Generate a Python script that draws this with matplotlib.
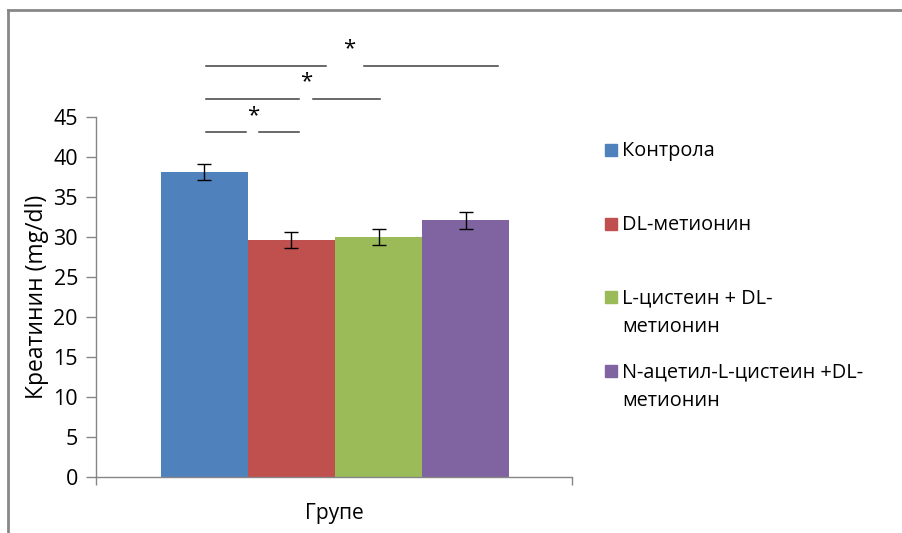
import matplotlib
matplotlib.use("Agg")
import matplotlib.pyplot as plt
from matplotlib.patches import Rectangle
from matplotlib.lines import Line2D

plt.rcParams['font.family'] = ['Open Sans', 'DejaVu Sans']

groups = ["Контрола", "DL-метионин", "L-цистеин + DL-\nметионин",
          "N-ацетил-L-цистеин +DL-\nметионин"]
means = [38.1, 29.6, 30.0, 32.1]
errors = [1.0, 1.0, 0.95, 1.05]
colors = ["#4F81BD", "#C0504D", "#9BBB59", "#8064A2"]

# significance brackets: (level, left segment, right segment, star x)
sig_levels = [43.1, 47.25, 51.4]
sig_left = [(0.02, 0.48), (0.02, 1.09), (0.02, 1.40)]
sig_right = [(0.63, 1.09), (1.25, 2.02), (1.83, 3.37)]
sig_star_x = [0.56, 1.17, 1.66]

W, H = 902, 533
fig = plt.figure(figsize=(W / 100, H / 100), dpi=100)
ax = fig.add_axes([96 / W, 1 - 477 / H, (572 - 96) / W, (477 - 117) / H])

x = list(range(len(means)))
ax.bar(x, means, width=1.0, color=colors, edgecolor='none')
ax.errorbar(x, means, yerr=errors, fmt='none', ecolor='black',
            elinewidth=1.0, capsize=5, capthick=1.0)

ax.set_xlim(-1.247, 4.224)
ax.set_ylim(0, 45)
ax.set_yticks(range(0, 46, 5))
ax.set_xticks([-1.247, 4.224])
ax.set_xticklabels([])
ax.tick_params(axis='y', direction='out', length=7, width=1, color='#868686',
               labelsize=15.5, pad=6)
ax.tick_params(axis='x', direction='out', length=6, width=1, color='#868686')
for s in ['top', 'right']:
    ax.spines[s].set_visible(False)
for s in ['left', 'bottom']:
    ax.spines[s].set_color('#868686')
    ax.spines[s].set_linewidth(1)

ax.set_ylabel("Креатинин (mg/dl)", fontsize=16.5, labelpad=3)
ax.set_xlabel("Групе", fontsize=15, labelpad=9)

# significance lines above plot
for lvl, l, r, sx in zip(sig_levels, sig_left, sig_right, sig_star_x):
    ax.plot(l, [lvl, lvl], color='#404040', lw=1.1, clip_on=False)
    ax.plot(r, [lvl, lvl], color='#404040', lw=1.1, clip_on=False)
    ax.text(sx, lvl + 2.1, "*", ha='center', va='center', fontsize=16,
            clip_on=False)

# legend drawn by hand (Excel style)
leg_y = [150, 224, 297, 371]
for lab, c, yy in zip(groups, colors, leg_y):
    fig.patches.append(Rectangle((605 / W, 1 - (yy + 6) / H), 12 / W, 12 / H,
                                 transform=fig.transFigure, color=c))
    fig.text(622 / W, 1 - (yy - 9) / H, lab, fontsize=14.3, va='top',
             ha='left', linespacing=1.6)

# chart border (top and left visible)
fig.add_artist(Line2D([8 / W, 1], [1 - 10 / H, 1 - 10 / H], color='#888888',
                      lw=2, transform=fig.transFigure))
fig.add_artist(Line2D([8 / W, 8 / W], [0, 1 - 10 / H], color='#888888',
                      lw=2, transform=fig.transFigure))

fig.savefig("out.png", dpi=100)
